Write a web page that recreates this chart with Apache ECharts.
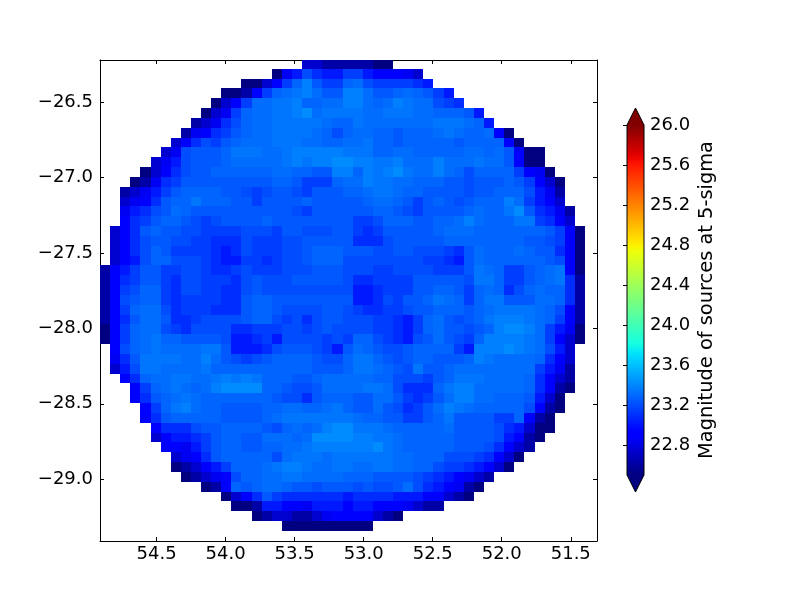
<!DOCTYPE html>
<html><head><meta charset="utf-8">
<style>html,body{margin:0;padding:0;background:#fff}#c{width:800px;height:600px}</style>
<script src="https://cdn.jsdelivr.net/npm/echarts@6/dist/echarts.min.js"></script>
</head><body><div id="c"></div>
<script>
// Tick values
const lonTicks = [54.5, 54.0, 53.5, 53.0, 52.5, 52.0, 51.5];
const latTicks = [-26.5, -27.0, -27.5, -28.0, -28.5, -29.0];
const barTicks = [22.8, 23.2, 23.6, 24.0, 24.4, 24.8, 25.2, 25.6, 26.0];
// Magnitude for each letter used in rowCodes
const levelCodes = 'abcdefghijklmno';
const levelMags = [22.50, 22.62, 22.74, 22.85, 22.92, 23.02, 23.09, 23.15, 23.20, 23.24, 23.28, 23.31, 23.34, 23.37, 23.42];
// First filled column in each row, top row first
const rowStart = [20,17,14,12,11,10,9,8,7,6,5,4,3,2,2,2,2,1,1,1,1,0,0,0,0,0,0,0,0,1,1,1,2,3,3,4,4,5,5,6,7,7,8,10,12,13,15,18];
// One letter per cell
const rowCodes = [
'ccbbbbbaa',
'adfigffhhfeeedc',
'aacehknjhhklihhhhgf',
'aabehklmnljjnnljjklkjhf',
'acehllmmnkkllnnlklnmllihg',
'acdhkllmmnolmmmmllmmmllkkkjf',
'bcdgikllmmmmmlkkmlllllllmmmlkf',
'bdeghjkllmmmmlkikllkkjkkklmlkklea',
'cegihjklllmmmllkkllmkkjkkkkkjkkkkea',
'cdijjjkmmmllmnnnnnmmmkkllkkkkkllkljeaa',
'cdfijjjklllllmnmnnoonnmmnlllnlllmlljeaa',
'acegijjkkkkkkllkkjjnnknmnomllnlkikkkkheda',
'abdghjjjjjjjjjkkjhhhkllnmmllkkkjjijjjkjheca',
'bcdfhjkkkkjjihijjihjjjkklmmlkkjjjjijjkkkifdb',
'cdegjkkmkkkjjhjjjjkjjjjjkllkjhjkjijkkknlhfec',
'dfgijlkjjjjjjjjjjihjjjjjjkkjihjjjjklkkmojgfdb',
'eghjkkjihijjjjkjjjjjjjjhhikkkjjkklnlkkkmmhgec',
'cegjkjjiihhhhiiihjjiiijjhghjjjjjklllkkkkkkkjhea',
'cegijjiihhgggihhhiijjjjjgggijjjjjkkkkkkkkjjihea',
'cegikjhhhhgfgihhhiijkkkjjjiijjiiihgjlkkklkjjgea',
'cefikkiiihgffhhghiijkkkiiiiiiiihhgfjlkkkkkkjiea',
'befhjjhhiihgghihhhiiijjjiiihhiiiihhhjmlkhhjklmea',
'beghjjhgiihhhgijiiijjjjjigghhhhjjjjjimmkhhjklmgb',
'behikkhgiihhggijiiiiiiiiiffghhhjjkkjhklkgiklkkgb',
'beijkkhghhhhggjkkjjjjjjjjffgihjjkmlkhkmmjjjllkgb',
'behklligh'+'hhggg'+'jkkjiiiijji'+'hgghhijjkkkjklmmmmlkieb',
'begjlljgghiiiijkkihigijjiiihhgfhkljijkmnnnmlkheb',
'aehkllihgiiiigghhhiihijiiiihhgfhkljjijknoonlhfda',
'aehklmkkjjjjiffghfiiiihihkkihgfijljihknnnnmlheca',
'eiklmllllmmjfffgijjjihfjlkjiijkkkkhfnnnonmlifc',
'dgjmmmmllnljihijkkkkjiikmmkjijkkjjjknmllllkgec',
'cfimmllllmkkkkkkkkkkjjjkmmlkjimjjkllllllllhfdb',
'egkllmmllmnmnmkkkjjklllllkkiiihjkmmmllllkgecb',
'ehklmlklnoooo'+'kkjiijlll'+'lmmligggkmnnlllllkgeba',
'egjklmlkkkkkkkjiigjkkkjjlljhghjlnnllkkkjfca',
'ehkmnlkkjjjjkkllkklmkjjljighjlnmlkkkkkieba',
'egjkkkkkjjjjklmmmmmmmlkkjjhhjkmjjjjhhkeba',
'egggijjkkkkjiklklnoommmlkkkkkljjjjigfcaa',
'ceffghjkkjjlllkloooonnmmlkkkkkjjjjifeba',
'eedfhjkkjjkkllmnnnnnnomlkkkkkjjjigecb',
'cdegjkkkkkilmmmlmmmmmmllkkkiiihgeca',
'abcefhkkklmnnmllmmllmmllkkihhgfeca',
'abcdeikkllmmllllkkkjjjjihgfedcb',
'abekjkllkjjijjjijiijligfedba',
'acegjhggggggfggggfffeecba',
'aabffeedfffeffeeedcbb',
'abccbbcdeeeecba',
'aaaaaaaaa'
];
// Axis limits and cell size in degrees
const lonLeft = 54.91, lonRight = 51.31, latTop = -26.22, latBottom = -29.41;
const cellLon = 0.0732, cellLat = 0.0652, firstLat = -26.213;
const barMin = 22.5, barMax = 26.0;

function jet(t){
  const p=(x,pts)=>{ if(x<=pts[0][0])return pts[0][1];
    for(let i=1;i<pts.length;i++){ if(x<=pts[i][0]){const a=pts[i-1],b=pts[i];return a[1]+(b[1]-a[1])*(x-a[0])/(b[0]-a[0]);}}
    return pts[pts.length-1][1]; };
  const r=p(t,[[0,0],[.35,0],[.66,1],[.89,1],[1,.5]]);
  const g=p(t,[[0,0],[.125,0],[.375,1],[.64,1],[.91,0],[1,0]]);
  const b=p(t,[[0,.5],[.11,1],[.34,1],[.65,0],[1,0]]);
  return 'rgb('+Math.round(r*255)+','+Math.round(g*255)+','+Math.round(b*255)+')';
}
const ramp=[]; for(let i=0;i<=64;i++) ramp.push(jet(i/64));

const cells=[];
rowCodes.forEach((codes,r)=>{
  for(let i=0;i<codes.length;i++){
    const col=rowStart[r]+i;
    cells.push([lonLeft-col*cellLon, firstLat-r*cellLat, levelMags[levelCodes.indexOf(codes[i])]]);
  }
});

const font='"DejaVu Sans"', fs=18;
const minus=v=>String(Number(v).toFixed(1)).replace('-','\u2212');
const line={lineStyle:{color:'#000',width:1}};
function lonAxis(pos,show){return {gridIndex:0,type:'value',position:pos,inverse:true,min:lonRight,max:lonLeft,
  axisLine:{show:true,onZero:false,...line},splitLine:{show:false},
  axisTick:{show:true,inside:true,length:4,customValues:lonTicks,...line},
  axisLabel:{show:show,customValues:lonTicks,formatter:minus,color:'#000',fontFamily:font,fontSize:fs,margin:4}};}
function latAxis(pos,show){return {gridIndex:0,type:'value',position:pos,min:latBottom,max:latTop,
  axisLine:{show:true,onZero:false,...line},splitLine:{show:false},
  axisTick:{show:true,inside:true,length:4,customValues:latTicks,...line},
  axisLabel:{show:show,customValues:latTicks,formatter:minus,color:'#000',fontFamily:font,fontSize:fs,margin:7,padding:[5,0,0,0]}};}

const chart=echarts.init(document.getElementById('c'),null,{width:800,height:600});
chart.setOption({
  animation:false,backgroundColor:'#fff',
  grid:[{left:100,top:60,width:497,height:481,containLabel:false},{left:627,top:125,width:17,height:350}],
  xAxis:[lonAxis('bottom',true),lonAxis('top',false),
    {gridIndex:1,type:'value',min:0,max:1,show:false}],
  yAxis:[latAxis('left',true),latAxis('right',false),
    {gridIndex:1,type:'value',position:'right',min:barMin,max:barMax,
     name:'Magnitude of sources at 5-sigma',nameLocation:'middle',nameRotate:90,nameGap:53,
     nameTextStyle:{color:'#000',fontFamily:font,fontSize:19.4},
     axisLine:{show:false},splitLine:{show:false},
     axisTick:{show:true,inside:true,length:4,customValues:barTicks,...line},
     axisLabel:{show:true,customValues:barTicks,formatter:v=>Number(v).toFixed(1),color:'#000',fontFamily:font,fontSize:fs,margin:6,padding:[5,0,0,0]}}],
  visualMap:{show:false,type:'continuous',min:barMin,max:barMax,dimension:2,seriesIndex:0,inRange:{color:ramp}},
  series:[
    {type:'custom',xAxisIndex:0,yAxisIndex:0,clip:true,data:cells,encode:{x:0,y:1},
     renderItem:(p,api)=>{
       const a=api.coord([api.value(0),api.value(1)]);
       const b=api.coord([api.value(0)-cellLon,api.value(1)-cellLat]);
       return {type:'rect',shape:{x:Math.round(a[0]),y:Math.round(a[1]),width:Math.round(b[0])-Math.round(a[0]),height:Math.round(b[1])-Math.round(a[1])},
         style:{fill:api.visual('color')},
         transition:[]};
     }},
    {type:'custom',xAxisIndex:2,yAxisIndex:2,clip:false,data:[[0,barMin,1,barMax]],silent:true,z:5,
     renderItem:(p,api)=>{
       const tl=api.coord([0,barMax]),br=api.coord([1,barMin]);
       const tip=0.17;
       const topTip=api.coord([0.5,barMax+tip]),botTip=api.coord([0.5,barMin-tip]);
       const stops=ramp.map((c,i)=>({offset:i/64,color:c}));
       return {type:'group',children:[
         {type:'rect',shape:{x:tl[0],y:tl[1],width:br[0]-tl[0],height:br[1]-tl[1]},
          style:{fill:new echarts.graphic.LinearGradient(0,1,0,0,stops)}},
         {type:'polygon',shape:{points:[tl,[br[0],tl[1]],topTip]},style:{fill:ramp[64]}},
         {type:'polygon',shape:{points:[[tl[0],br[1]],br,botTip]},style:{fill:ramp[0]}},
         {type:'polygon',shape:{points:[[tl[0],tl[1]],topTip,[br[0],tl[1]],br,botTip,[tl[0],br[1]]]},
          style:{fill:'none',stroke:'#000',lineWidth:1}}
       ]};
     }}
  ]
});
</script></body></html>
